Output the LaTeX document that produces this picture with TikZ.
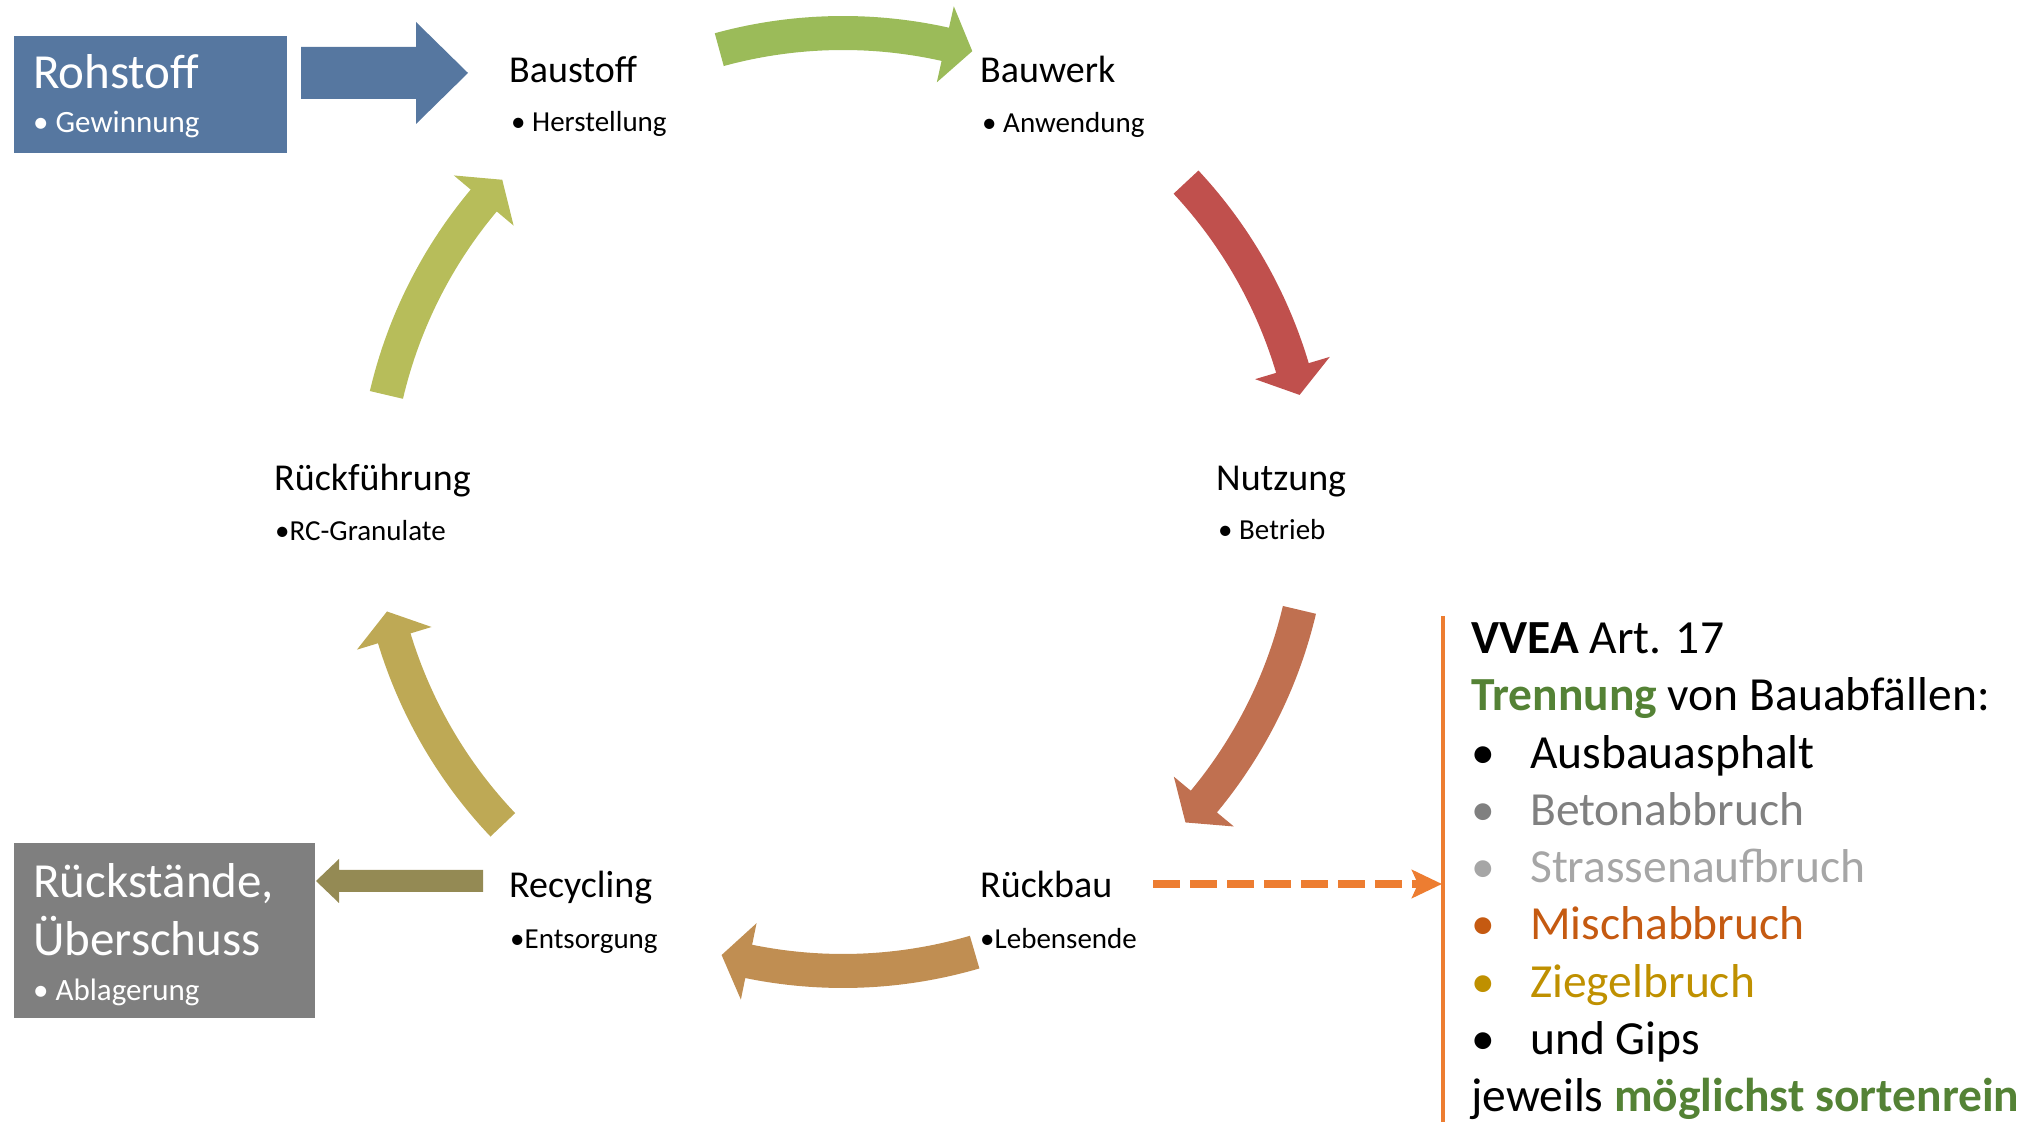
\documentclass[tikz,border=0pt]{standalone}
\usepackage{fontspec}
\setmainfont{Carlito}
\usetikzlibrary{arrows.meta}
\definecolor{cBlue}{HTML}{5677A0}
\definecolor{cGreen}{HTML}{9BBB59}
\definecolor{cRed}{HTML}{C0504D}
\definecolor{cOrange}{HTML}{C07050}
\definecolor{cBrown}{HTML}{C08E52}
\definecolor{cGold}{HTML}{BEA955}
\definecolor{cLGreen}{HTML}{B7BD5A}
\definecolor{cOlive}{HTML}{948A54}
\definecolor{cGreyBox}{HTML}{7F7F7F}
\definecolor{cOrangeL}{HTML}{ED7D31}
\definecolor{cGreenT}{HTML}{548235}
\definecolor{cGrayA}{HTML}{808080}
\definecolor{cGrayB}{HTML}{A6A6A6}
\definecolor{cMisch}{HTML}{C55A11}
\definecolor{cZiegel}{HTML}{BF9000}
\newcommand\cycarr[3]{%
  \pgfmathsetmacro\myab{#3+3.4}%
  \fill[#1] ([shift={(C)}]#2:452) arc[start angle=#2, end angle=\myab, radius=452]
    -- ([shift={(C)}]\myab:430) -- ([shift={(C)}]#3:469) -- ([shift={(C)}]\myab:508)
    -- ([shift={(C)}]\myab:486) arc[start angle=\myab, end angle=#2, radius=486] -- cycle;}
\newcommand\itm[2]{\textcolor{#1}{\makebox[59pt][l]{•}#2}}
\begin{document}
\begin{tikzpicture}[x=1pt,y=1pt,
  ttl/.style={anchor=base west, inner sep=0pt, font=\fontsize{38}{45}\selectfont},
  sub/.style={anchor=base west, inner sep=0pt, font=\fontsize{29}{35}\selectfont},
  boxttl/.style={anchor=base west, inner sep=0pt, text=white, font=\fontsize{49}{59}\selectfont},
  boxsub/.style={anchor=base west, inner sep=0pt, text=white, font=\fontsize{31}{37}\selectfont}]
\useasboundingbox (0,0) rectangle (2034,1122);
\coordinate (C) at (843,620);

% boxes
\node[fill=cBlue, inner sep=0pt, minimum width=273pt, minimum height=117pt, anchor=south west] (rohbox) at (14,969) {};
\node[boxttl] (roh) at (33,1033) {Rohstoff};
\node[boxsub] (rohs) at (33,989) {• Gewinnung};

\node[fill=cGreyBox, inner sep=0pt, minimum width=301pt, minimum height=175pt, anchor=south west] (rueckbox) at (14,104) {};
\node[boxttl] (rueck1) at (33,224) {Rückstände,};
\node[boxttl] (rueck2) at (33,167) {Überschuss};
\node[boxsub] (rueck3) at (33,122) {• Ablagerung};

% straight block arrows
\fill[cBlue] (301,1023) -- (416,1023) -- (416,998) -- (468,1049) -- (416,1100) -- (416,1075) -- (301,1075) -- cycle;
\fill[cOlive] (483,230) -- (339,230) -- (339,219) -- (316,241) -- (339,263) -- (339,252) -- (483,252) -- cycle;

% cycle labels
\node[ttl] (baustoff) at (509,1039) {Baustoff};
\node[sub] (baustoffs) at (511,990) {• Herstellung};
\node[ttl] (bauwerk) at (980,1039) {Bauwerk};
\node[sub] (bauwerks) at (982,989) {• Anwendung};
\node[ttl] (nutzung) at (1216,631) {Nutzung};
\node[sub] (nutzungs) at (1218,582) {• Betrieb};
\node[ttl] (rueckbau) at (980,224) {Rückbau};
\node[sub] (rueckbaus) at (980,173) {•Lebensende};
\node[ttl] (recycling) at (509,224) {Recycling};
\node[sub] (recyclings) at (510,173) {•Entsorgung};
\node[ttl] (rueckf) at (274,631) {Rückführung};
\node[sub] (rueckfs) at (275,581) {•RC-Granulate};

% cycle arrows
\cycarr{cGreen}{105.3}{74.0}
\cycarr{cRed}{43.0}{13.2}
\cycarr{cOrange}{-13.3}{-43.1}
\cycarr{cBrown}{-73.7}{-105.0}
\cycarr{cGold}{-136.5}{-166.5}
\cycarr{cLGreen}{166.8}{136.6}

% right panel
\coordinate (vtop) at (1443,506);
\coordinate (vbot) at (1443,0);
\draw[cOrangeL, line width=4pt] (vtop) -- (vbot);
\coordinate (dstart) at (1153,238);
\coordinate (dend) at (1442,238);
\draw[cOrangeL, line width=8.7pt, dash pattern=on 27pt off 10pt,
  -{Stealth[length=30pt,width=28pt,inset=6pt]}] (dstart) -- (dend);

\node[anchor=base west, inner sep=0pt, font=\fontsize{47.5}{57.3}\selectfont] (vvea) at (1471,468.5) {%
\begin{tabular}[t]{@{}l@{}}
\textbf{VVEA} Art. 17\\
\textcolor{cGreenT}{\textbf{Trennung}} von Bauabfällen:\\
\itm{black}{Ausbauasphalt}\\
\itm{cGrayA}{Betonabbruch}\\
\itm{cGrayB}{Strassenaufbruch}\\
\itm{cMisch}{Mischabbruch}\\
\itm{cZiegel}{Ziegelbruch}\\
\itm{black}{und Gips}\\
jeweils \textcolor{cGreenT}{\textbf{möglichst sortenrein}}
\end{tabular}};
\end{tikzpicture}
\end{document}
